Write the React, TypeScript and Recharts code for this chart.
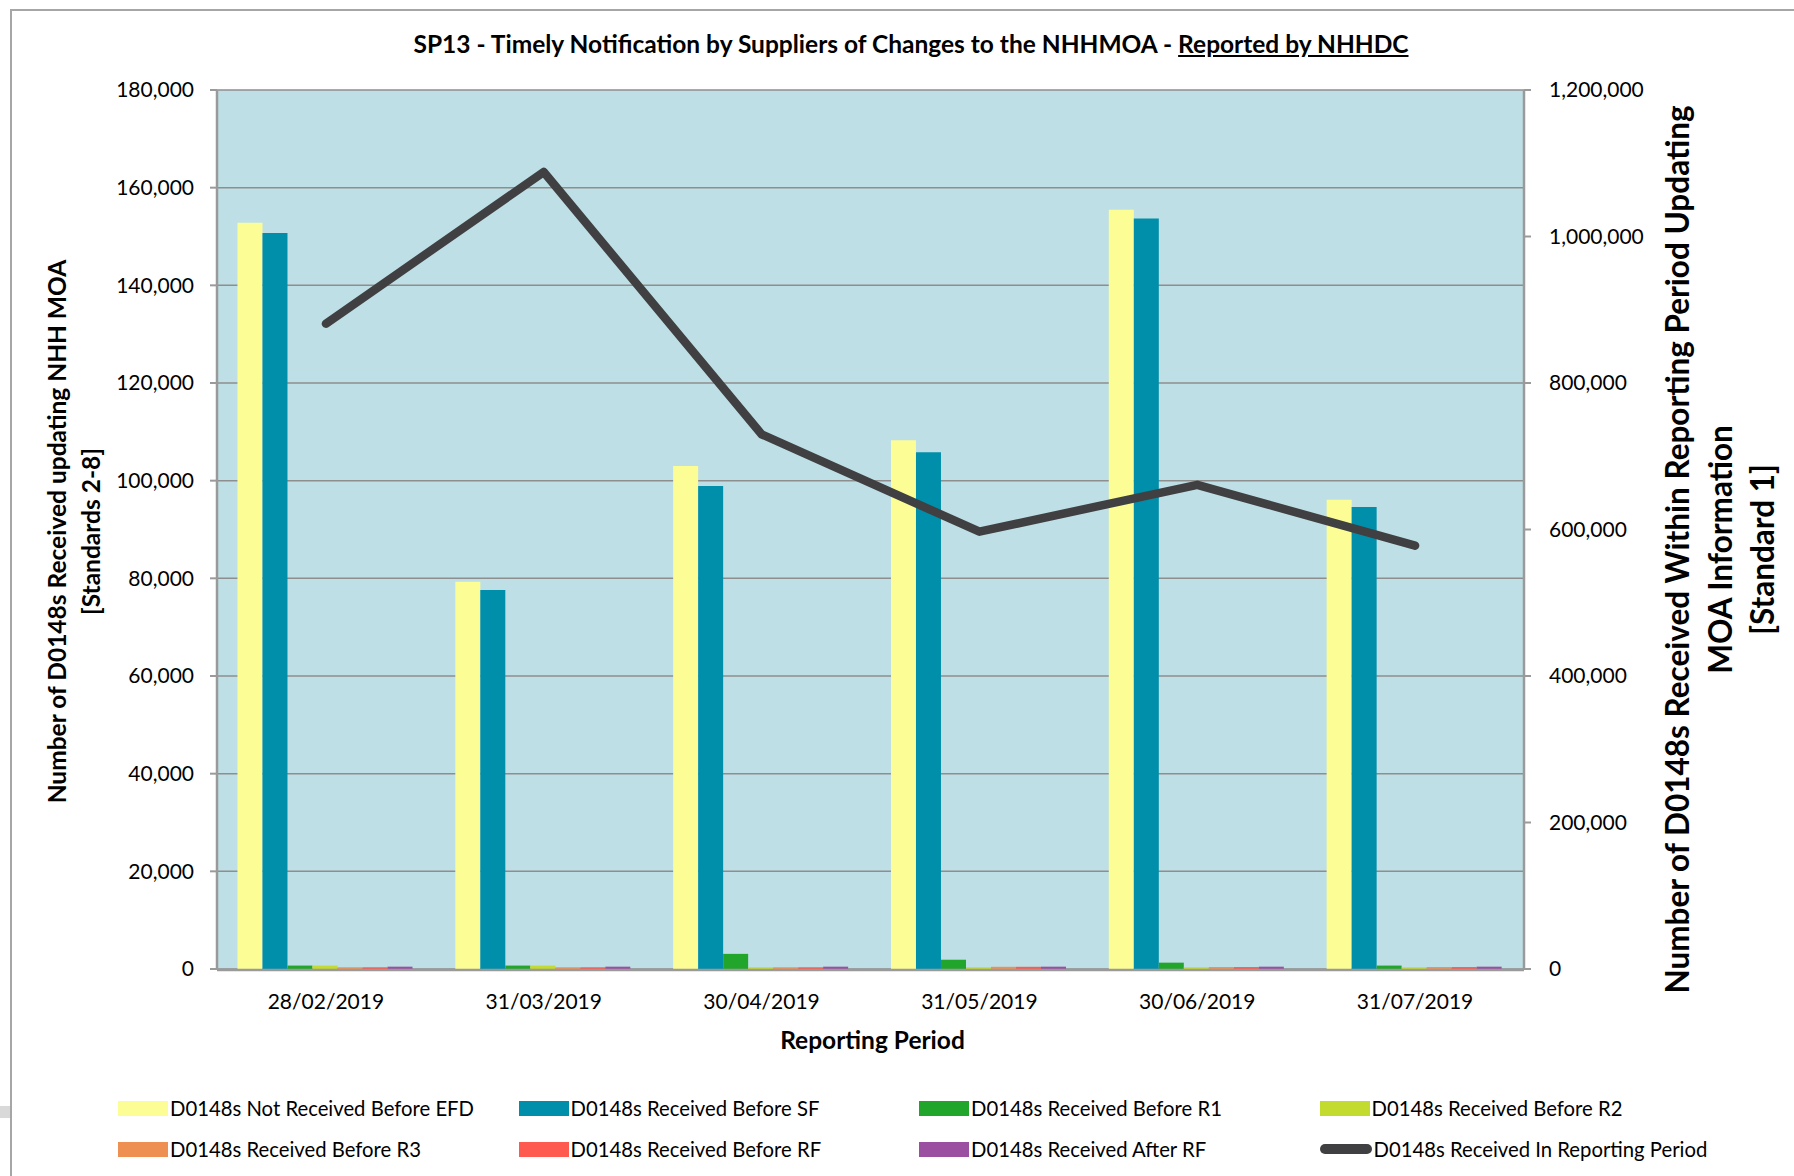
import React from 'react';
import { ComposedChart, Bar, Line, XAxis, YAxis, CartesianGrid } from 'recharts';

const periods = ['28/02/2019', '31/03/2019', '30/04/2019', '31/05/2019', '30/06/2019', '31/07/2019'];
const notBeforeEFD = [152800, 79300, 103000, 108300, 155500, 96100];
const beforeSF = [150700, 77600, 98900, 105800, 153700, 94600];
const beforeR1 = [700, 700, 3100, 1900, 1300, 700];
const beforeR2 = [700, 700, 350, 350, 350, 350];
const beforeR3 = [350, 350, 350, 450, 400, 400];
const beforeRF = [350, 350, 350, 450, 400, 400];
const afterRF = [480, 480, 480, 480, 480, 480];
const inPeriod = [881000, 1088000, 730000, 597000, 661000, 578000];

const leftTicks = [0, 20000, 40000, 60000, 80000, 100000, 120000, 140000, 160000, 180000];
const rightTicks = [0, 200000, 400000, 600000, 800000, 1000000, 1200000];
const boundaryTicks = [0, 1, 2, 3, 4, 5, 6];

const barSeries = [
  { key: 'efd', name: 'D0148s Not Received Before EFD', color: '#FDFD96', values: notBeforeEFD },
  { key: 'sf', name: 'D0148s Received Before SF', color: '#008FAA', values: beforeSF },
  { key: 'r1', name: 'D0148s Received Before R1', color: '#22A52B', values: beforeR1 },
  { key: 'r2', name: 'D0148s Received Before R2', color: '#C3DA2E', values: beforeR2 },
  { key: 'r3', name: 'D0148s Received Before R3', color: '#EE9052', values: beforeR3 },
  { key: 'rf', name: 'D0148s Received Before RF', color: '#FF5A4F', values: beforeRF },
  { key: 'after', name: 'D0148s Received After RF', color: '#9B4FA0', values: afterRF },
];
const lineSeries = { key: 'period', name: 'D0148s Received In Reporting Period', color: '#404042' };

const data = periods.map((p, i) => {
  const row: Record<string, number | string> = { period: p, inPeriod: inPeriod[i] };
  barSeries.forEach((s) => {
    row[s.key] = s.values[i];
  });
  return row;
});

const legendOrder = [
  barSeries[0], barSeries[1], barSeries[2], barSeries[3],
  barSeries[4], barSeries[5], barSeries[6], { ...lineSeries, line: true },
];

const FONT = 'Lato, "Open Sans", sans-serif';
const fmt = (v: number) => v.toLocaleString('en-US');

const LeftTitle = (props: any) => {
  const vb = props.viewBox || {};
  const cx = 57;
  const cy = vb.y + vb.height / 2 + 2;
  return (
    <text
      transform={`rotate(-90, ${cx}, ${cy})`}
      x={cx}
      y={cy}
      textAnchor="middle"
      fontFamily={FONT}
      fontWeight={700}
      fontSize={24.5}
      fill="#000"
    >
      <tspan x={cx} dy="0.35em">Number of D0148s  Received updating NHH MOA</tspan>
      <tspan x={cx} dy="1.4em">[Standards 2-8]</tspan>
    </text>
  );
};

const RightTitle = (props: any) => {
  const vb = props.viewBox || {};
  const cx = vb.x + 154;
  const cy = vb.y + vb.height / 2 + 20;
  return (
    <text
      transform={`rotate(-90, ${cx}, ${cy})`}
      x={cx}
      y={cy}
      textAnchor="middle"
      fontFamily={FONT}
      fontWeight={700}
      fontSize={31.5}
      fill="#000"
    >
      <tspan x={cx} dy="0.35em">Number of D0148s Received Within Reporting Period Updating</tspan>
      <tspan x={cx} dy="1.38em">MOA Information</tspan>
      <tspan x={cx} dy="1.33em">[Standard 1]</tspan>
    </text>
  );
};

const XTitle = (props: any) => {
  const vb = props.viewBox || {};
  const cx = vb.x + vb.width / 2 + 2;
  return (
    <text x={cx} y={vb.y + 80} textAnchor="middle" fontFamily={FONT} fontWeight={700} fontSize={24.5} fill="#000">
      Reporting Period
    </text>
  );
};

export default function App() {
  return (
    <div style={{ position: 'absolute', left: 0, top: 0, width: 1794, height: 1176, background: '#fff', fontFamily: FONT }}>
      <div style={{ position: 'absolute', left: 10, top: 9, width: 1784, height: 1167, borderTop: '2px solid #a6a6a6', borderLeft: '2px solid #a6a6a6' }} />
      <div style={{ position: 'absolute', left: 0, top: 1106, width: 10, height: 12, background: '#d9d9d9' }} />
      <div
        style={{
          position: 'absolute',
          left: 311,
          width: 1200,
          top: 28,
          textAlign: 'center',
          fontSize: 24.5,
          fontWeight: 700,
          color: '#000',
          lineHeight: '32px',
          whiteSpace: 'nowrap',
        }}
      >
        SP13 - Timely Notification by Suppliers of Changes to the NHHMOA - <span style={{ textDecoration: 'underline' }}>Reported by NHHDC</span>
      </div>
      <ComposedChart
        width={1794}
        height={1176}
        data={data}
        margin={{ top: 90, right: 0, bottom: 205, left: 0 }}
        barCategoryGap="9.4%"
        barGap={0}
        style={{ position: 'absolute', left: 0, top: 0 }}
      >
        <CartesianGrid
          yAxisId="left"
          vertical={false}
          stroke="#8e8e8e"
          strokeWidth={1.5}
          fill="#BEDFE5"
          fillOpacity={1}
        />
        <XAxis
          dataKey="period"
          height={1}
          axisLine={false}
          tickLine={false}
          tickSize={0}
          tickMargin={25}
          tick={{ fontFamily: FONT, fontSize: 21, fill: '#000' }}
          interval={0}
          label={<XTitle />}
        />
        <XAxis
          xAxisId="bounds"
          type="number"
          domain={[0, 6]}
          ticks={boundaryTicks}
          allowDataOverflow
          height={1}
          axisLine={{ stroke: '#9a9a9a', strokeWidth: 2.5 }}
          tick={false}
          tickSize={8}
          tickLine={{ stroke: '#9a9a9a', strokeWidth: 2 }}
          interval={0}
        />
        <YAxis
          yAxisId="left"
          width={217}
          domain={[0, 180000]}
          ticks={leftTicks}
          tickFormatter={fmt}
          axisLine={{ stroke: '#9a9a9a', strokeWidth: 2.5 }}
          tickLine={{ stroke: '#9a9a9a', strokeWidth: 2 }}
          tickSize={7}
          tickMargin={16}
          tick={{ fontFamily: FONT, fontSize: 21, fill: '#000' }}
          interval={0}
          label={<LeftTitle />}
        />
        <YAxis
          yAxisId="right"
          orientation="right"
          width={270}
          domain={[0, 1200000]}
          ticks={rightTicks}
          tickFormatter={fmt}
          axisLine={{ stroke: '#9a9a9a', strokeWidth: 2.5 }}
          tickLine={{ stroke: '#9a9a9a', strokeWidth: 2 }}
          tickSize={7}
          tickMargin={18}
          tick={{ fontFamily: FONT, fontSize: 21, fill: '#000' }}
          interval={0}
          label={<RightTitle />}
        />
        {barSeries.map((s) => (
          <Bar key={s.key} yAxisId="left" dataKey={s.key} name={s.name} fill={s.color} isAnimationActive={false} />
        ))}
        <Line
          yAxisId="right"
          dataKey="inPeriod"
          name={lineSeries.name}
          stroke={lineSeries.color}
          strokeWidth={8.5}
          strokeLinejoin="round"
          strokeLinecap="round"
          dot={false}
          activeDot={false}
          isAnimationActive={false}
        />
      </ComposedChart>
      {legendOrder.map((s: any, i) => {
        const col = i % 4;
        const row = Math.floor(i / 4);
        const left = 118 + col * 400.5;
        const cy = 1108 + row * 41;
        return (
          <div key={s.key} style={{ position: 'absolute', left, top: cy - 14, height: 28, display: 'flex', alignItems: 'center', whiteSpace: 'nowrap' }}>
            {s.line ? (
              <div style={{ width: 52, height: 10, borderRadius: 5, background: s.color, marginRight: 2 }} />
            ) : (
              <div style={{ width: 50, height: 15, background: s.color, marginRight: 2 }} />
            )}
            <span style={{ fontSize: 20.3, color: '#000' }}>{s.name}</span>
          </div>
        );
      })}
    </div>
  );
}
